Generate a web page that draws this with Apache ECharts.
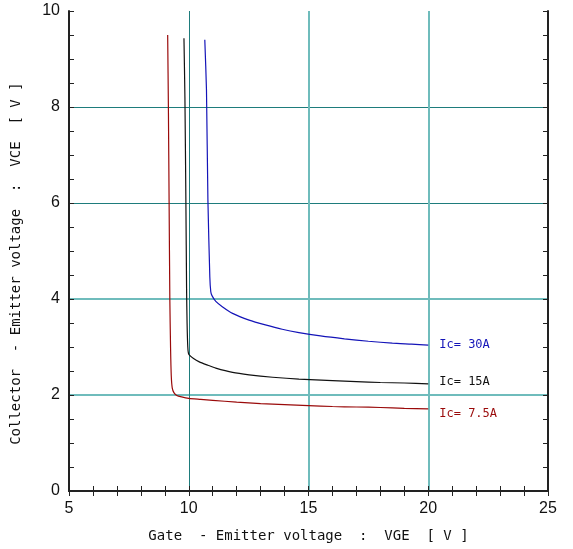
<!DOCTYPE html>
<html>
<head>
<meta charset="utf-8">
<script src="https://cdn.jsdelivr.net/npm/echarts@6/dist/echarts.min.js"></script>
<style>
  html, body { margin: 0; padding: 0; background: #fff; }
  #chart { width: 573px; height: 549px; }
</style>
</head>
<body>
<div id="chart"></div>
<script>
// Ic = 7.5A
var vge75 = [9.12, 9.15, 9.18, 9.21, 9.24, 9.27, 9.31, 9.38, 9.5, 9.7, 10.0, 10.5, 11, 12, 13, 14, 15, 16, 17, 18, 19, 20];
var vce75 = [9.5, 8, 6, 4, 3, 2.4, 2.15, 2.05, 1.99, 1.96, 1.93, 1.91, 1.89, 1.85, 1.82, 1.80, 1.78, 1.76, 1.75, 1.74, 1.72, 1.71];
// Ic = 15A
var vge15 = [9.8, 9.84, 9.88, 9.91, 9.93, 9.96, 10.0, 10.2, 10.44, 10.8, 11.13, 11.83, 12.52, 13.5, 14.6, 16, 17, 18, 19, 20];
var vce15 = [9.43, 8.2, 6.06, 4.19, 3.5, 3.0, 2.85, 2.76, 2.69, 2.62, 2.56, 2.47, 2.42, 2.37, 2.33, 2.30, 2.28, 2.26, 2.25, 2.23];
// Ic = 30A
var vge30 = [10.67, 10.74, 10.8, 10.88, 10.92, 10.97, 11.13, 11.4, 11.83, 12.52, 13.2, 13.9, 14.6, 15.5, 16.5, 17.5, 18.5, 19.3, 20];
var vce30 = [9.4, 8.36, 6.06, 4.46, 4.15, 4.07, 3.95, 3.84, 3.70, 3.56, 3.46, 3.37, 3.30, 3.23, 3.17, 3.12, 3.08, 3.06, 3.04];

var xTicks = [5, 10, 15, 20, 25];
var yTicks = [0, 2, 4, 6, 8, 10];

function zip(xs, ys) {
  return xs.map(function (x, i) { return [x, ys[i]]; });
}

var tickFont = { fontFamily: 'Liberation Sans', fontSize: 16, color: '#111' };
var nameFont = { fontFamily: 'DejaVu Sans Mono', fontSize: 14, color: '#111' };
var axisLine = { show: true, lineStyle: { color: '#222', width: 2 } };
var tick = { inside: true, length: 5, lineStyle: { color: '#222' } };
var none = 'rgba(0,0,0,0)';
var darkTeal = '#1e7c7c';
var lightTeal = '#6fbcbc';

function curve(name, data, color, label, offsetY) {
  return {
    name: name,
    type: 'line',
    data: data,
    showSymbol: false,
    smooth: 0.2,
    lineStyle: { color: color, width: 1.2 },
    endLabel: {
      show: true,
      formatter: label,
      distance: 11,
      offset: [0, offsetY],
      color: color,
      fontFamily: 'DejaVu Sans Mono',
      fontSize: 12
    }
  };
}

var chart = echarts.init(document.getElementById('chart'));
chart.setOption({
  animation: false,
  grid: { left: 69, right: 25, top: 11, bottom: 58 },
  xAxis: [{
    type: 'value',
    min: xTicks[0], max: xTicks[xTicks.length - 1], interval: 5,
    name: 'Gate  - Emitter voltage  :  VGE  [ V ]',
    nameLocation: 'middle', nameGap: 38,
    nameTextStyle: nameFont,
    axisLine: axisLine,
    axisTick: tick,
    minorTick: { show: true, splitNumber: 5, length: 5, lineStyle: { color: '#222' } },
    axisLabel: Object.assign({ margin: 10 }, tickFont),
    splitLine: { show: true, lineStyle: { color: [none, darkTeal, none, none, none], width: 1 } }
  }, {
    type: 'value', position: 'top',
    min: xTicks[0], max: xTicks[xTicks.length - 1], interval: 5,
    axisLine: axisLine,
    axisTick: tick,
    minorTick: { show: true, splitNumber: 5, length: 5, lineStyle: { color: '#222' } },
    axisLabel: { show: false },
    splitLine: { show: true, lineStyle: { color: [none, none, lightTeal, lightTeal, none], width: 2 } }
  }],
  yAxis: [{
    type: 'value',
    min: yTicks[0], max: yTicks[yTicks.length - 1], interval: 2,
    name: 'Collector  - Emitter voltage  :  VCE  [ V ]   ',
    nameLocation: 'middle', nameGap: 46, nameRotate: 90,
    nameTextStyle: nameFont,
    axisLine: axisLine,
    axisTick: tick,
    minorTick: { show: true, splitNumber: 4, length: 5, lineStyle: { color: '#222' } },
    axisLabel: Object.assign({ margin: 9 }, tickFont),
    splitLine: { show: true, lineStyle: { color: [none, none, none, darkTeal, darkTeal, none], width: 1 } }
  }, {
    type: 'value', position: 'right',
    min: yTicks[0], max: yTicks[yTicks.length - 1], interval: 2,
    axisLine: axisLine,
    axisTick: tick,
    minorTick: { show: true, splitNumber: 4, length: 5, lineStyle: { color: '#222' } },
    axisLabel: { show: false },
    splitLine: { show: true, lineStyle: { color: [none, lightTeal, lightTeal, none, none, none], width: 2 } }
  }],
  series: [
    curve('Ic=7.5A', zip(vge75, vce75), '#9a0a0a', 'Ic= 7.5A', 5),
    curve('Ic=15A', zip(vge15, vce15), '#111111', 'Ic= 15A', -2),
    curve('Ic=30A', zip(vge30, vce30), '#1414b8', 'Ic= 30A', 0)
  ]
});
</script>
</body>
</html>
